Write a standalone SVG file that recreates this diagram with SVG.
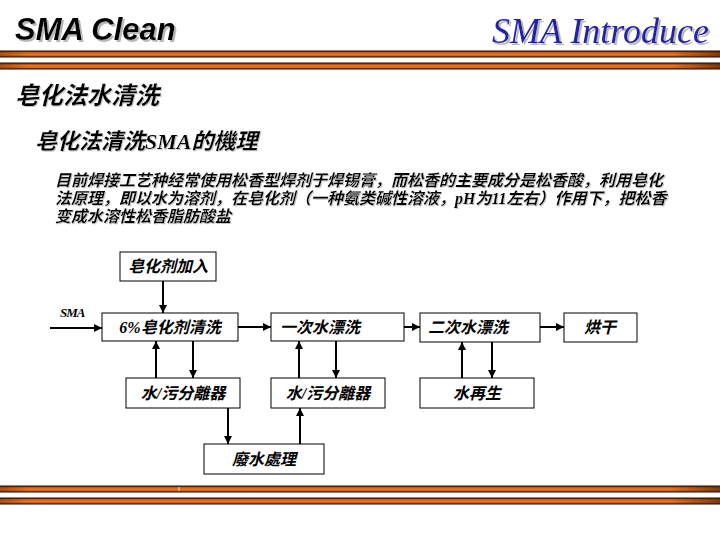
<svg xmlns="http://www.w3.org/2000/svg" width="720" height="540" viewBox="0 0 720 540">
<defs>
<linearGradient id="barV" x1="0" y1="0" x2="0" y2="1">
<stop offset="0" stop-color="#8a3608"/>
<stop offset="0.5" stop-color="#f47a22"/>
<stop offset="1" stop-color="#b04c10"/>
</linearGradient>
<linearGradient id="barH" x1="0" y1="0" x2="1" y2="0">
<stop offset="0" stop-color="#3a1400" stop-opacity="0.35"/>
<stop offset="0.04" stop-color="#3a1400" stop-opacity="0"/>
<stop offset="0.93" stop-color="#3a1400" stop-opacity="0"/>
<stop offset="1" stop-color="#3a1400" stop-opacity="0.6"/>
</linearGradient>
<filter id="shadow" x="-5%" y="-20%" width="110%" height="150%">
<feDropShadow dx="2" dy="2" stdDeviation="0.6" flood-color="#b8b8b8" flood-opacity="1"/>
</filter>
<filter id="shadowS" x="-5%" y="-20%" width="110%" height="150%">
<feDropShadow dx="1" dy="1" stdDeviation="0.4" flood-color="#c8c8c8" flood-opacity="1"/>
</filter>
<marker id="arr" viewBox="0 0 10 10" refX="10" refY="5" markerWidth="4" markerHeight="4" orient="auto" markerUnits="strokeWidth">
<path d="M0,0 L10,5 L0,10 z" fill="#000"/>
</marker>
</defs>
<style>
.bar{fill:url(#barV);stroke:#1a0a00;stroke-width:1}
.barh{fill:url(#barH)}
.cjk{font-family:"Liberation Serif","Noto Sans CJK SC",serif;font-style:italic;font-weight:bold;fill:#000}
.box{fill:#fff;stroke:#000;stroke-width:1}
.lbl{font-family:"Liberation Serif","Noto Sans CJK SC",serif;font-style:italic;font-weight:bold;font-size:16px;fill:#000}
.c{text-anchor:middle}
.conn line{stroke:#000;stroke-width:2;marker-end:url(#arr)}
</style>
<rect width="720" height="540" fill="#fff"/>

<g id="header">
<text x="15" y="40" font-family="Liberation Sans, Arial, sans-serif" font-size="31" font-weight="bold" font-style="italic" fill="#000" filter="url(#shadow)">SMA Clean</text>
<text x="709" y="43" text-anchor="end" font-family="Liberation Serif, serif" font-size="36" font-style="italic" fill="#2222a8" filter="url(#shadow)">SMA Introduce</text>
<rect class="bar" x="-1" y="51" width="722" height="6"/>
<rect class="barh" x="-1" y="51" width="722" height="6"/>
<rect class="bar" x="-1" y="63" width="722" height="6"/>
<rect class="barh" x="-1" y="63" width="722" height="6"/>
</g>

<g id="footer">
<rect class="bar" x="-1" y="486" width="722" height="6"/>
<rect class="barh" x="-1" y="486" width="722" height="6"/>
<line x1="179" y1="487" x2="179" y2="491" stroke="#ffe8c0" stroke-width="1"/>
<rect class="bar" x="-1" y="498" width="722" height="6"/>
<rect class="barh" x="-1" y="498" width="722" height="6"/>
</g>

<g id="titles" filter="url(#shadowS)">
<text class="cjk" x="15" y="104" font-size="24">皂化法水清洗</text>
<text class="cjk" x="35" y="149" font-size="22">皂化法清洗SMA的機理</text>
<text class="cjk" x="55" y="186" font-size="16">目前焊接工艺种经常使用松香型焊剂于焊锡膏，而松香的主要成分是松香酸，利用皂化</text>
<text class="cjk" x="55" y="204" font-size="16">法原理，即以水为溶剂，在皂化剂（一种氨类碱性溶液，pH为11左右）作用下，把松香</text>
<text class="cjk" x="55" y="222" font-size="16">变成水溶性松香脂肪酸盐</text>
</g>

<g id="sma-label">
<text x="60" y="317" font-family="Liberation Serif, serif" font-size="13" font-weight="bold" font-style="italic" letter-spacing="-1">SMA</text>
</g>

<g id="conn" class="conn">
<line x1="50" y1="328" x2="102" y2="328"/>
<line x1="163" y1="281" x2="163" y2="313"/>
<line x1="238" y1="327" x2="271" y2="327"/>
<line x1="404" y1="327" x2="420" y2="327"/>
<line x1="540" y1="327" x2="564" y2="327"/>
<line x1="156" y1="378" x2="156" y2="341"/>
<line x1="193" y1="341" x2="193" y2="378"/>
<line x1="299" y1="378" x2="299" y2="341"/>
<line x1="336" y1="341" x2="336" y2="378"/>
<line x1="462" y1="378" x2="462" y2="342"/>
<line x1="492" y1="342" x2="492" y2="378"/>
<line x1="228" y1="408" x2="228" y2="444"/>
<line x1="300" y1="444" x2="300" y2="408"/>
</g>

<g id="n-add">
<rect class="box" x="120" y="252" width="96" height="29"/>
<text class="lbl c" x="168" y="272">皂化剂加入</text>
</g>
<g id="n-clean">
<rect class="box" x="102" y="313" width="136" height="28"/>
<text class="lbl c" x="170" y="333">6%皂化剂清洗</text>
</g>
<g id="n-rinse1">
<rect class="box" x="271" y="313" width="133" height="28"/>
<text class="lbl" x="280" y="333">一次水漂洗</text>
</g>
<g id="n-rinse2">
<rect class="box" x="420" y="313" width="120" height="29"/>
<text class="lbl" x="428" y="333">二次水漂洗</text>
</g>
<g id="n-dry">
<rect class="box" x="564" y="313" width="73" height="29"/>
<text class="lbl c" x="600" y="333">烘干</text>
</g>
<g id="n-sep1">
<rect class="box" x="126" y="378" width="114" height="30"/>
<text class="lbl c" x="183" y="399">水/污分離器</text>
</g>
<g id="n-sep2">
<rect class="box" x="271" y="378" width="114" height="30"/>
<text class="lbl c" x="328" y="399">水/污分離器</text>
</g>
<g id="n-regen">
<rect class="box" x="420" y="378" width="114" height="30"/>
<text class="lbl c" x="477" y="399">水再生</text>
</g>
<g id="n-waste">
<rect class="box" x="204" y="444" width="120" height="30"/>
<text class="lbl c" x="264" y="465">廢水處理</text>
</g>
</svg>
